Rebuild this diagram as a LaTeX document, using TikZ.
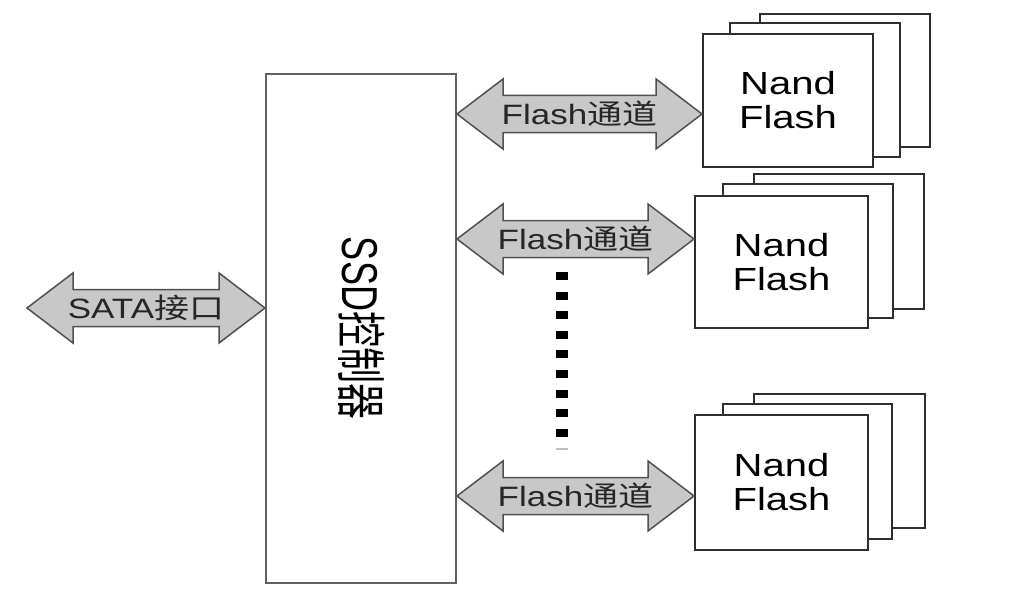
\documentclass[tikz,border=0pt]{standalone}
\usepackage{fontspec}
\setmainfont{Liberation Sans}
\newfontfamily\latS[FakeStretch=1.25]{Liberation Sans}
\newfontfamily\cjkS[FakeStretch=1.25]{Noto Sans CJK SC}
\newfontfamily\cjkN{Noto Sans CJK SC}
\usetikzlibrary{calc}
\definecolor{arrowfill}{HTML}{C8C8C8}
\definecolor{arrowline}{HTML}{505050}
\definecolor{boxline}{HTML}{2E2E2E}
\definecolor{ctrlline}{HTML}{606060}
\begin{document}
\begin{tikzpicture}[x=1pt,y=-1pt,
  chip/.style={draw=boxline, line width=2, fill=white, inner sep=0, align=center,
    font=\latS\fontsize{32}{34}\selectfont},
  chipback/.style={draw=boxline, line width=2, fill=white},
  ctrlbox/.style={draw=ctrlline, line width=2, fill=white, inner sep=0},
  lbl/.style={inner sep=0, text=black!85, font=\fontsize{28}{30}\selectfont},
  dots/.style={draw=black, line width=12, dash pattern=on 8 off 11.6},
  dbl/.style={draw=arrowline, fill=arrowfill, line width=1.5, line join=miter,
    to path={-- ($(\tikztostart)+(46,-35)$) -- ($(\tikztostart)+(46,-18.5)$)
      -- ($(\tikztotarget)+(-46,-18.5)$) -- ($(\tikztotarget)+(-46,-35)$)
      -- (\tikztotarget) -- ($(\tikztotarget)+(-46,35)$) -- ($(\tikztotarget)+(-46,18.5)$)
      -- ($(\tikztostart)+(46,18.5)$) -- ($(\tikztostart)+(46,35)$) -- cycle}}]
\useasboundingbox[fill=white] (0,0) rectangle (1024,607);

% controller
\node[ctrlbox, minimum width=190, minimum height=509] (ctrl) at (361,328.5) {};
\node[rotate=-90, inner sep=0, font=\fontsize{36}{38}\selectfont] (ctrltext) at (362,328)
  {\scalebox{1}[1.4]{SSD\cjkN 控制器}};

% flash group 1
\draw[chipback] (760,14) rectangle (930,147);
\draw[chipback] (730,23) rectangle (900,157);
\node[chip, minimum width=170, minimum height=133] (f1) at (788,100.5) {Nand\\Flash};
% flash group 2
\draw[chipback] (754,174) rectangle (924,309);
\draw[chipback] (723,184) rectangle (893,318);
\node[chip, minimum width=173, minimum height=132] (f2) at (781.5,262) {Nand\\Flash};
% flash group 3
\draw[chipback] (754,394) rectangle (925,528);
\draw[chipback] (723,404) rectangle (892,539);
\node[chip, minimum width=173, minimum height=135] (f3) at (781.5,482.5) {Nand\\Flash};

% arrow end points
\coordinate (s0) at (27,308);
\coordinate (s1) at (ctrl.west |- 0,308);
\coordinate (a1l) at (ctrl.east |- 0,114);
\coordinate (a1r) at (f1.west |- 0,114);
\coordinate (a2l) at (ctrl.east |- 0,239);
\coordinate (a2r) at (f2.west |- 0,239);
\coordinate (a3l) at (ctrl.east |- 0,496);
\coordinate (a3r) at (f3.west |- 0,496);

\draw[dbl] (s0) to (s1);
\draw[dbl] (a1l) to (a1r);
\draw[dbl] (a2l) to (a2r);
\draw[dbl] (a3l) to (a3r);

\node[lbl] (t0) at ($(s0)!0.5!(s1)$) {\latS SATA\cjkS 接口};
\node[lbl] (t1) at ($(a1l)!0.5!(a1r)$) {\latS Flash\cjkS 通道};
\node[lbl] (t2) at ($(a2l)!0.5!(a2r)$) {\latS Flash\cjkS 通道};
\node[lbl] (t3) at ($(a3l)!0.5!(a3r)$) {\latS Flash\cjkS 通道};

% dots
\coordinate (d0) at (562,272);
\coordinate (d1) at (562,438);
\draw[dots] (d0) -- (d1);
\coordinate (e0) at (556,449);
\coordinate (e1) at (568,449);
\draw[draw=black!25, line width=2] (e0) -- (e1);
\end{tikzpicture}
\end{document}
